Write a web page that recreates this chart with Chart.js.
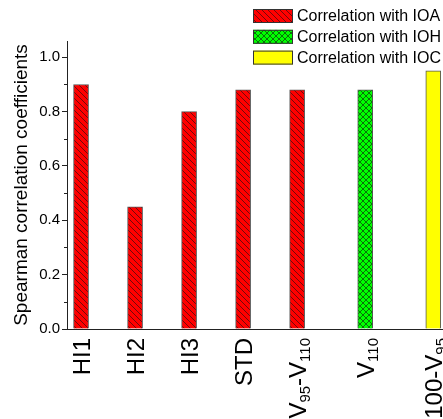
<!DOCTYPE html>
<html>
<head>
<meta charset="utf-8">
<script src="https://cdn.jsdelivr.net/npm/chart.js@4.4.0/dist/chart.umd.min.js"></script>
<style>
  html, body { margin: 0; padding: 0; background: #fff; }
  canvas { display: block; }
</style>
</head>
<body>
<canvas id="chart" width="443" height="419"></canvas>
<script>
// categories use _{..} for subscript parts
const categories = ["HI1", "HI2", "HI3", "STD", "V_{95}-V_{110}", "V_{110}", "100-V_{95}"];
const positions = [1, 2, 3, 4, 5, 6.26, 7.52];
const ioaValues = [0.90, 0.45, 0.80, 0.88, 0.88];
const iohValues = [0.88];
const iocValues = [0.95];
const seriesNames = ["Correlation with IOA", "Correlation with IOH", "Correlation with IOC"];
const yTicks = [0, 0.2, 0.4, 0.6, 0.8, 1.0];
const yMinorTicks = [0.1, 0.3, 0.5, 0.7, 0.9];

const FONT = '"Liberation Sans", Arial, sans-serif';
Chart.defaults.font.family = FONT;
Chart.defaults.color = "#000";

function hatch(bg, cross, n) {
  const c = document.createElement("canvas");
  c.width = n;
  c.height = n;
  const g = c.getContext("2d");
  g.fillStyle = bg;
  g.fillRect(0, 0, n, n);
  g.strokeStyle = "#111";
  g.lineWidth = 0.6;
  g.beginPath();
  g.moveTo(-1, -1); g.lineTo(n + 1, n + 1);
  g.moveTo(-1, n - 1); g.lineTo(1, n + 1);
  g.moveTo(n - 1, -1); g.lineTo(n + 1, 1);
  if (cross) {
    g.moveTo(n + 1, -1); g.lineTo(-1, n + 1);
    g.moveTo(1, -1); g.lineTo(-1, 1);
    g.moveTo(n + 1, n - 1); g.lineTo(n - 1, n + 1);
  }
  g.stroke();
  return g.createPattern(c, "repeat");
}

function parts(label) {
  const out = [];
  const re = /_\{([^}]*)\}/g;
  let last = 0, m;
  while ((m = re.exec(label))) {
    if (m.index > last) out.push({ t: label.slice(last, m.index), sub: false });
    out.push({ t: m[1], sub: true });
    last = re.lastIndex;
  }
  if (last < label.length) out.push({ t: label.slice(last), sub: false });
  return out;
}

const extras = {
  id: "extras",
  afterDraw(chart) {
    const ctx = chart.ctx;
    const xs = chart.scales.x;
    const ys = chart.scales.y;

    // minor ticks on y
    ctx.save();
    ctx.strokeStyle = "#222";
    ctx.lineWidth = 1;
    yMinorTicks.forEach((v) => {
      const y = Math.round(ys.getPixelForValue(v)) + 0.5;
      ctx.beginPath();
      ctx.moveTo(ys.right - 3, y);
      ctx.lineTo(ys.right, y);
      ctx.stroke();
    });
    ctx.restore();

    // rotated category labels with subscripts
    const main = "24px " + FONT;
    const sub = "15px " + FONT;
    categories.forEach((lab, i) => {
      const px = xs.getPixelForValue(positions[i]);
      const ps = parts(lab);
      let total = 0;
      ps.forEach((p) => {
        ctx.font = p.sub ? sub : main;
        p.w = ctx.measureText(p.t).width;
        total += p.w;
      });
      ctx.save();
      ctx.translate(px + 9, xs.top + 9);
      ctx.rotate(-Math.PI / 2);
      ctx.fillStyle = "#000";
      ctx.textAlign = "left";
      ctx.textBaseline = "alphabetic";
      let cur = -total;
      ps.forEach((p) => {
        ctx.font = p.sub ? sub : main;
        ctx.fillText(p.t, cur, p.sub ? 4 : 0);
        cur += p.w;
      });
      ctx.restore();
    });

    // legend
    const lx = 253, ly = 9, bw = 40, bh = 14, gap = 20.8;
    ctx.save();
    chart.data.datasets.forEach((ds, i) => {
      const y = ly + i * gap;
      ctx.fillStyle = ds.backgroundColor;
      ctx.fillRect(lx, y, bw, bh);
      ctx.strokeStyle = "#333";
      ctx.lineWidth = 1;
      ctx.strokeRect(lx + 0.5, y + 0.5, bw - 1, bh - 1);
      ctx.fillStyle = "#000";
      ctx.font = "16px " + FONT;
      ctx.textBaseline = "middle";
      ctx.textAlign = "left";
      ctx.fillText(ds.label, lx + 44, y + bh / 2 + 1);
    });
    ctx.restore();
  },
};

const barStyle = { borderColor: "#555", borderWidth: 1, barThickness: 15, grouped: false };

const ctx = document.getElementById("chart").getContext("2d");
new Chart(ctx, {
  type: "bar",
  data: {
    datasets: [
      {
        label: seriesNames[0],
        data: ioaValues.map((v, i) => ({ x: positions[i], y: v })),
        backgroundColor: hatch("#ff0000", false, 6),
        ...barStyle,
      },
      {
        label: seriesNames[1],
        data: iohValues.map((v) => ({ x: positions[5], y: v })),
        backgroundColor: hatch("#00ff00", true, 6),
        ...barStyle,
      },
      {
        label: seriesNames[2],
        data: iocValues.map((v) => ({ x: positions[6], y: v })),
        backgroundColor: "#ffff00",
        ...barStyle,
      },
    ],
  },
  options: {
    responsive: false,
    animation: false,
    devicePixelRatio: 1,
    layout: { padding: { top: 41, left: 0, right: 0, bottom: 0 } },
    plugins: { legend: { display: false }, tooltip: { enabled: false } },
    scales: {
      x: {
        type: "linear",
        offset: false,
        min: 0.74,
        max: 7.7,
        grid: { display: true, drawOnChartArea: false, drawTicks: false, offset: false },
        border: { display: true, color: "#222", width: 1 },
        ticks: { display: false },
        afterFit: (s) => { s.height = 90; },
      },
      y: {
        min: 0,
        max: 1.06,
        afterBuildTicks: (s) => { s.ticks = yTicks.map((v) => ({ value: v })); },
        afterFit: (s) => { s.width = 67; },
        grid: { display: true, drawOnChartArea: false, drawTicks: true, tickLength: 5, tickColor: "#222" },
        border: { display: true, color: "#222", width: 1 },
        ticks: { padding: 2, color: "#000", font: { size: 15 }, callback: (v) => v.toFixed(1) },
        title: {
          display: true,
          text: "Spearman correlation coefficients",
          color: "#000",
          font: { size: 19 },
          padding: { top: 10, bottom: 0 },
        },
      },
    },
  },
  plugins: [extras],
});
</script>
</body>
</html>
